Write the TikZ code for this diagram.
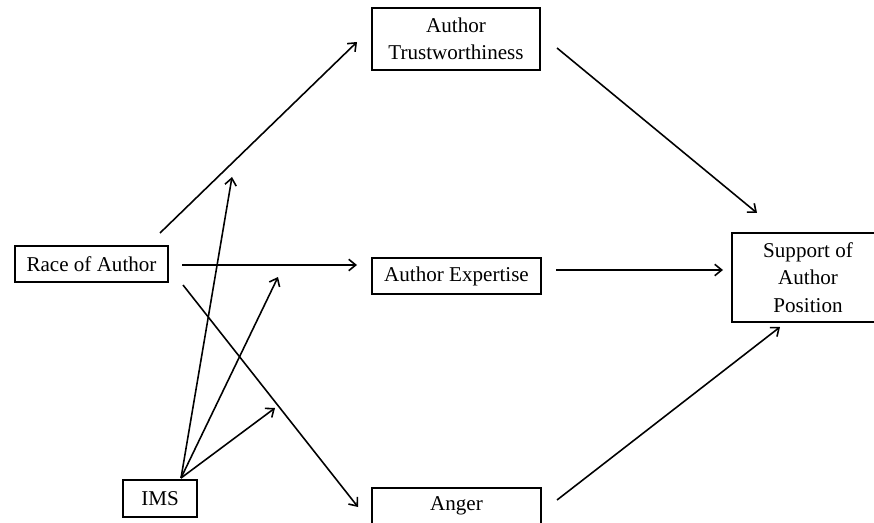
\documentclass[tikz,border=0pt]{standalone}
\usepackage{fontspec}
\setmainfont{Liberation Serif}
\usetikzlibrary{positioning, arrows.meta}
\tikzset{
    box/.style={draw, rectangle, line width=0.9pt, align=center, inner sep=1pt,
                font=\fontsize{12}{15.5}\selectfont},
    conn/.style={-{Straight Barb[length=4pt, width=6.5pt, line width=0.9pt]}, line width=0.9pt},
}

\begin{document}
\begin{tikzpicture}[x=0.02cm, y=-0.02cm]
        \useasboundingbox (0,0) rectangle (874,523);
        \clip (0,0) rectangle (874,523);

        \node [box, minimum width=3.06cm, minimum height=0.72cm] (race) at (91.5,264) {Race of Author};
        \node [box, minimum width=1.48cm, minimum height=0.74cm] (ims) at (160,498.5) {IMS};
        \node [box, minimum width=3.36cm, minimum height=1.24cm] (trust) at (456,39) {Author\\Trustworthiness};
        \node [box, minimum width=3.38cm, minimum height=0.72cm] (expert) at (456.5,276) {Author Expertise};
        \node [box, minimum width=3.38cm, minimum height=0.72cm] (anger) at (456.5,506) {Anger};
        \node [box, minimum width=3.04cm, minimum height=1.78cm] (support) at (808,277.5) {Support of\\Author\\Position};

        % arrow ends
        \coordinate (rt1) at (160,233);  \coordinate (rt2) at (357,42);
        \coordinate (re1) at (182,265);  \coordinate (re2) at (357,265);
        \coordinate (ra1) at (183,285);  \coordinate (ra2) at (358,507);
        \coordinate (ts1) at (557,48);   \coordinate (ts2) at (757,213);
        \coordinate (es1) at (556,270);  \coordinate (es2) at (723,270);
        \coordinate (as1) at (557,500);  \coordinate (as2) at (780,327);
        \coordinate (im0) at (181,478);
        \coordinate (im1) at (232,177);
        \coordinate (im2) at (278,277);
        \coordinate (im3) at (275,408);

        \draw[conn] (rt1) -- (rt2);
        \draw[conn] (re1) -- (re2);
        \draw[conn] (ra1) -- (ra2);
        \draw[conn] (ts1) -- (ts2);
        \draw[conn] (es1) -- (es2);
        \draw[conn] (as1) -- (as2);
        \draw[conn] (im0) -- (im1);
        \draw[conn] (im0) -- (im2);
        \draw[conn] (im0) -- (im3);
    \end{tikzpicture}
\end{document}
